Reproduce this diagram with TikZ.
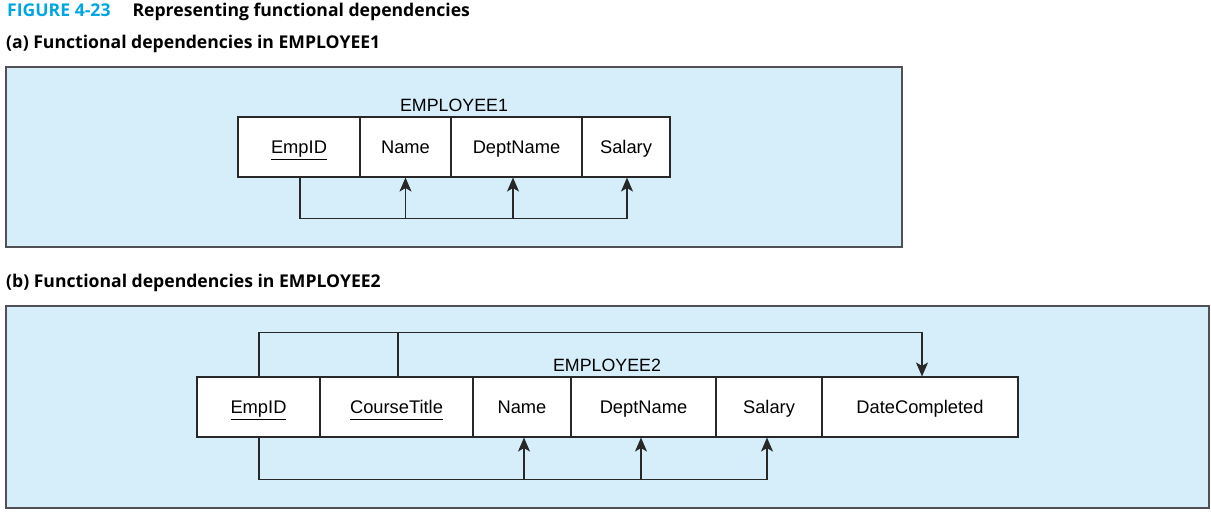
\documentclass[tikz,border=0pt]{standalone}
\usepackage{fontspec}
\setmainfont{Liberation Sans}
\newfontfamily\headfont{Open Sans}
\usetikzlibrary{arrows.meta,calc}
\definecolor{panelblue}{RGB}{213,238,250}
\definecolor{panelborder}{RGB}{80,80,85}
\definecolor{figcyan}{RGB}{0,166,228}
\definecolor{linegray}{RGB}{40,40,40}
\tikzset{
  panel/.style={draw=panelborder, fill=panelblue, line width=1.3pt},
  cell/.style={draw=linegray, fill=white, line width=1.1pt, minimum height=60pt, inner sep=0pt,
     font=\fontsize{18.3}{20}\selectfont, text height=14pt, text depth=2pt},
  tlabel/.style={font=\fontsize{17.8}{20}\selectfont, inner sep=0pt},
  head/.style={font=\headfont\bfseries\fontsize{17.6}{20}\selectfont, inner sep=0pt, anchor=west},
  conn/.style={draw=linegray, line width=1.1pt},
  arr/.style={conn, -{Stealth[length=14pt,width=12pt,inset=3.5pt]}},
}
\newsavebox\ulbox
\newcommand\keyul[1]{\sbox\ulbox{#1}\usebox\ulbox\llap{\rule[-7pt]{\wd\ulbox}{1.3pt}}}
\begin{document}
\begin{tikzpicture}[x=1pt,y=-1pt]
\useasboundingbox (0,0) rectangle (1211,512);
% headings
\node[head] (ttl) at (7,12) {\textcolor{figcyan}{FIGURE 4-23}\hspace{22pt}Representing functional dependencies};
\node[head] (ha) at (6,44) {(a) Functional dependencies in EMPLOYEE1};
\node[head] (hb) at (6,283) {(b) Functional dependencies in EMPLOYEE2};
% panels
\draw[panel] (6,67) rectangle (902,247);
\draw[panel] (6,306) rectangle (1209,508);
% table a
\node[tlabel] (ta) at (454,105) {EMPLOYEE1};
\node[cell, minimum width=122pt] (a1) at (299,147) {\keyul{EmpID}};
\node[cell, minimum width=91pt] (a2) at (405.5,147) {Name};
\node[cell, minimum width=131pt] (a3) at (516.5,147) {DeptName};
\node[cell, minimum width=88pt] (a4) at (626,147) {Salary};
\coordinate (ab1) at ($(a1.south)+(1,41)$);
\coordinate (ab4) at ($(a4.south)+(1,41)$);
\draw[conn] ($(a1.south)+(1,0)$) -- (ab1) -- (ab4);
\draw[arr] (ab4) -- ($(a4.south)+(1,0)$);
\draw[arr] (a2.south |- ab1) -- (a2.south);
\draw[arr] ($(a3.south)+(-3.5,41)$) -- ($(a3.south)+(-3.5,0)$);
% table b
\node[tlabel] (tb) at (607,365) {EMPLOYEE2};
\node[cell, minimum width=123pt] (b1) at (258.5,407) {\keyul{EmpID}};
\node[cell, minimum width=153pt] (b2) at (396.5,407) {\keyul{CourseTitle}};
\node[cell, minimum width=98pt] (b3) at (522,407) {Name};
\node[cell, minimum width=145pt] (b4) at (643.5,407) {DeptName};
\node[cell, minimum width=106pt] (b5) at (769,407) {Salary};
\node[cell, minimum width=196pt] (b6) at (920,407) {DateCompleted};
% top dependency
\coordinate (bt1) at ($(b1.north)+(0.5,-44)$);
\coordinate (bt6) at ($(b6.north)+(2,-44)$);
\draw[conn] ($(b1.north)+(0.5,0)$) -- (bt1) -- (bt6);
\draw[conn] ($(b2.north)+(1.5,0)$) -- ($(b2.north)+(1.5,-44)$);
\draw[arr] (bt6) -- ($(b6.north)+(2,0)$);
% bottom dependency
\coordinate (bb1) at ($(b1.south)+(0.5,42)$);
\coordinate (bb5) at ($(b5.south)+(-2,42)$);
\draw[conn] ($(b1.south)+(0.5,0)$) -- (bb1) -- (bb5);
\draw[arr] (bb5) -- ($(b5.south)+(-2,0)$);
\draw[arr] ($(b3.south)+(2,42)$) -- ($(b3.south)+(2,0)$);
\draw[arr] ($(b4.south)+(-2.5,42)$) -- ($(b4.south)+(-2.5,0)$);
\end{tikzpicture}
\end{document}
